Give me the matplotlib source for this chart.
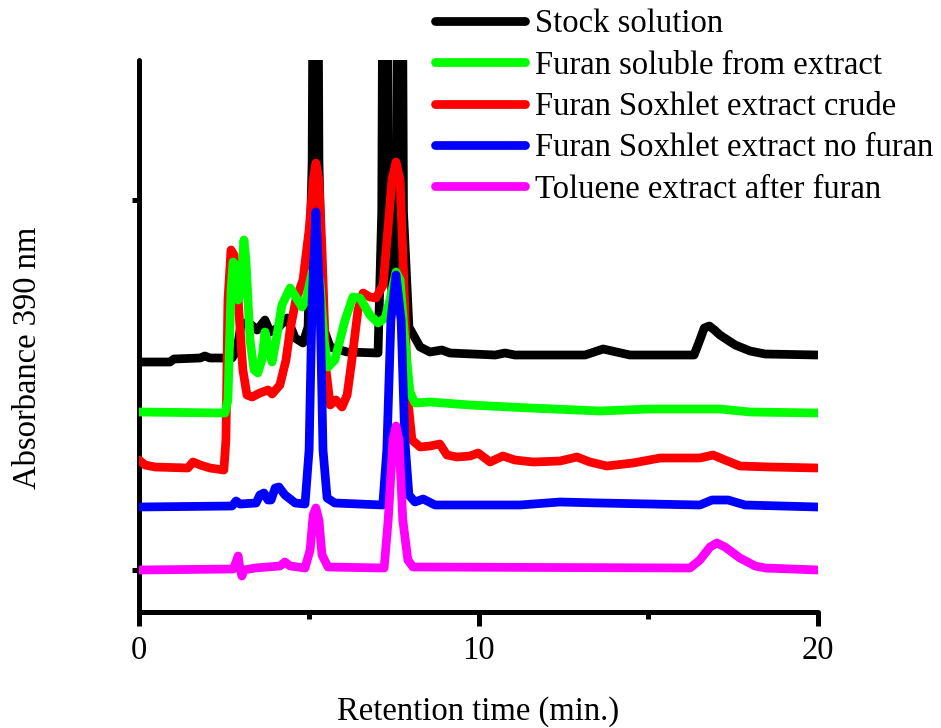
import numpy as np
import matplotlib
matplotlib.use("Agg")
import matplotlib.pyplot as plt
from matplotlib.ticker import MultipleLocator

plt.rcParams['font.family'] = ['Liberation Serif', 'DejaVu Serif']

# retention time (min) and absorbance (arb. units)
stock_t = [0.00, 0.91, 1.03, 1.80, 1.94, 2.09, 2.74, 2.89, 3.00, 3.21, 3.48, 3.71, 3.86, 4.09, 4.36, 4.60,
           4.83, 4.98, 5.10, 5.20, 5.30, 5.42, 5.63, 6.13, 7.04, 7.15, 7.25, 7.35, 7.47, 7.59, 7.69, 7.79,
           7.95, 8.28, 8.57, 8.92, 9.16, 10.49, 10.78, 11.07, 13.14, 13.67, 14.46, 16.35, 16.52, 16.65,
           16.80, 16.95, 17.11, 17.56, 18.00, 18.44, 20.00]
stock_a = [2.50, 2.50, 2.53, 2.54, 2.56, 2.54, 2.54, 2.62, 2.87, 2.90, 2.82, 2.92, 2.80, 2.84, 2.94, 2.74,
           2.69, 2.85, 4.50, 12.0, 4.50, 2.85, 2.65, 2.60, 2.59, 4.00, 12.0, 4.00, 3.00, 4.00, 12.0, 4.00,
           2.85, 2.65, 2.60, 2.62, 2.59, 2.57, 2.59, 2.57, 2.57, 2.63, 2.57, 2.57, 2.72, 2.84,
           2.86, 2.82, 2.77, 2.67, 2.61, 2.58, 2.57]

soluble_t = [0.00, 2.53, 2.62, 2.71, 2.77, 2.83, 2.92, 3.00, 3.09, 3.15, 3.27, 3.39, 3.50, 3.62, 3.71, 3.80,
             3.92, 4.04, 4.21, 4.45, 4.62, 4.80, 4.92, 5.10, 5.21, 5.33, 5.45, 5.57, 5.77, 6.07, 6.30, 6.51,
             6.80, 7.04, 7.25, 7.39, 7.57, 7.69, 7.83, 7.98, 8.13, 8.57, 9.75, 11.52, 13.58, 15.05, 17.11,
             18.00, 20.00]
soluble_a = [2.00, 1.99, 2.12, 3.22, 3.50, 3.47, 3.12, 3.22, 3.72, 3.52, 2.72, 2.42, 2.39, 2.52, 2.80, 2.67,
             2.50, 2.72, 3.07, 3.24, 3.15, 3.05, 3.12, 3.40, 3.50, 3.30, 2.72, 2.45, 2.52, 2.92, 3.15, 3.14,
             2.97, 2.89, 2.94, 3.12, 3.40, 3.32, 2.72, 2.20, 2.09, 2.10, 2.07, 2.04, 2.01, 2.03, 2.03,
             2.00, 1.99]

crude_t = [0.00, 0.18, 0.47, 1.44, 1.59, 1.80, 2.09, 2.50, 2.56, 2.62, 2.71, 2.80, 2.92, 3.06, 3.18, 3.33,
           3.56, 3.80, 3.92, 4.15, 4.33, 4.45, 4.62, 4.83, 5.01, 5.13, 5.21, 5.30, 5.39, 5.51, 5.63, 5.80,
           5.98, 6.13, 6.27, 6.45, 6.60, 6.80, 6.98, 7.19, 7.33, 7.45, 7.57, 7.69, 7.80, 7.92, 8.04, 8.28,
           8.57, 8.86, 9.07, 9.37, 9.75, 9.99, 10.34, 10.72, 11.07, 11.61, 12.40, 12.90, 13.28, 13.78,
           14.55, 15.35, 16.52, 16.91, 17.26, 17.70, 18.59, 20.00]
crude_a = [1.52, 1.47, 1.45, 1.44, 1.50, 1.47, 1.44, 1.42, 1.72, 3.12, 3.62, 3.57, 3.12, 2.42, 2.17, 2.15,
           2.19, 2.22, 2.18, 2.27, 2.52, 2.82, 3.12, 3.32, 3.82, 4.32, 4.49, 4.32, 3.62, 2.42, 2.07, 2.12,
           2.05, 2.17, 2.52, 3.02, 3.19, 3.15, 3.14, 3.27, 3.82, 4.32, 4.50, 4.32, 3.32, 2.12, 1.72, 1.65,
           1.66, 1.68, 1.57, 1.55, 1.56, 1.59, 1.50, 1.56, 1.52, 1.50, 1.51, 1.55, 1.50, 1.46,
           1.49, 1.54, 1.54, 1.57, 1.52, 1.46, 1.45, 1.44]

nofuran_t = [0.00, 2.74, 2.86, 2.97, 3.45, 3.56, 3.68, 3.80, 3.89, 4.01, 4.12, 4.30, 4.60, 4.89, 5.01, 5.10,
             5.21, 5.33, 5.42, 5.54, 5.77, 7.18, 7.30, 7.42, 7.57, 7.72, 7.83, 7.95, 8.13, 8.37, 8.72,
             11.22, 12.40, 13.58, 16.52, 16.88, 17.35, 17.85, 20.00]
nofuran_a = [1.05, 1.06, 1.11, 1.08, 1.09, 1.17, 1.19, 1.12, 1.12, 1.24, 1.25, 1.17, 1.09, 1.08, 1.62, 3.12,
             4.00, 3.12, 1.62, 1.14, 1.09, 1.07, 1.62, 2.92, 3.37, 2.92, 1.72, 1.17, 1.10, 1.13, 1.07,
             1.07, 1.10, 1.09, 1.07, 1.12, 1.12, 1.07, 1.05]

toluene_t = [0.00, 2.77, 2.86, 2.92, 2.97, 3.03, 3.09, 3.42, 4.15, 4.30, 4.45, 4.89, 5.04, 5.13, 5.21, 5.30,
             5.39, 5.57, 7.22, 7.34, 7.48, 7.57, 7.66, 7.77, 7.92, 8.07, 16.23, 16.52, 16.82, 17.02, 17.26,
             17.70, 18.15, 18.44, 20.00]
toluene_a = [0.42, 0.43, 0.50, 0.56, 0.44, 0.36, 0.42, 0.44, 0.46, 0.50, 0.46, 0.44, 0.62, 0.97, 1.04, 0.92,
             0.57, 0.45, 0.44, 0.92, 1.72, 1.86, 1.72, 0.92, 0.52, 0.45, 0.44, 0.52, 0.65, 0.69, 0.65,
             0.54, 0.46, 0.44, 0.42]

labels = ["Stock solution", "Furan soluble from extract", "Furan Soxhlet extract crude",
          "Furan Soxhlet extract no furan", "Toluene extract after furan"]
colors = ['#000000', '#00ff00', '#ff0000', '#0000ff', '#ff00ff']
series = [(stock_t, stock_a), (soluble_t, soluble_a), (crude_t, crude_a),
          (nofuran_t, nofuran_a), (toluene_t, toluene_a)]
zorders = [2, 4, 3, 5, 6]

fig = plt.figure(figsize=(9.41, 7.28), dpi=100)
ax = fig.add_axes([139/941, 1-612/728, (818-139)/941, (612-60)/728])

handles = []
for (t, a), lab, c, z in zip(series, labels, colors, zorders):
    h, = ax.plot(t, a, color=c, lw=6.3, label=lab, zorder=z,
                 solid_capstyle='round', solid_joinstyle='round')
    handles.append(h)

ax.set_xlim(0, 20)
ax.set_ylim(0, 5.52)
ax.xaxis.set_major_locator(MultipleLocator(10))
ax.xaxis.set_minor_locator(MultipleLocator(5))
ax.set_yticks([0.42, 4.12])
ax.set_yticklabels([])
for s in ['top', 'right']:
    ax.spines[s].set_visible(False)
for s in ['left', 'bottom']:
    ax.spines[s].set_linewidth(3.6)
    ax.spines[s].set_capstyle('round')
ax.tick_params(axis='x', which='major', length=10, width=3.6, direction='out', labelsize=23.5, pad=7)
ax.tick_params(axis='x', which='minor', length=5, width=3.6, direction='out')
ax.tick_params(axis='y', which='major', length=5, width=3.6, direction='out')

ax.set_xlabel("Retention time (min.)", fontsize=23.5, labelpad=22)
ax.set_ylabel("Absorbance 390 nm", fontsize=23.5)
ax.yaxis.set_label_coords(-0.141, 0.461)

leg = fig.legend(handles=handles, loc='upper left', bbox_to_anchor=(435/941, 1-9/728),
                 frameon=False, fontsize=23.5, handlelength=2.75, handletextpad=0.3,
                 labelspacing=0.33, borderpad=0, borderaxespad=0)
for lh in leg.get_lines():
    lh.set_linewidth(6.3)
    lh.set_solid_capstyle('round')

fig.savefig("out.png", dpi=100)
